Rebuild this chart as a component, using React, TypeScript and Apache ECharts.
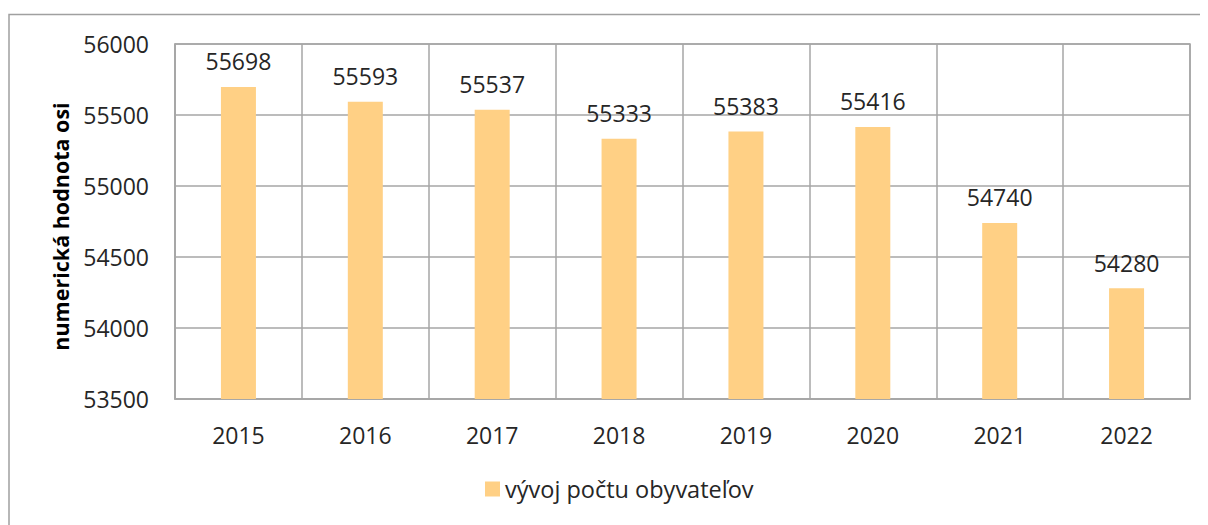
import React, { useEffect, useRef } from "react";
import * as echarts from "echarts";

const categories = ["2015", "2016", "2017", "2018", "2019", "2020", "2021", "2022"];
const values = [55698, 55593, 55537, 55333, 55383, 55416, 54740, 54280];
const seriesName = "vývoj počtu obyvateľov";
const yAxisName = "numerická hodnota osi";
const yMin = 53500;
const yMax = 56000;
const yInterval = 500;

const FONT = "'Open Sans', sans-serif";
const TEXT = "#262626";
const GRID = "#a6a6a6";

export default function App() {
  const ref = useRef<HTMLDivElement>(null);
  useEffect(() => {
    if (!ref.current) return;
    const chart = echarts.init(ref.current, undefined, { renderer: "svg" });
    chart.setOption({
      animation: false,
      textStyle: { fontFamily: FONT },
      graphic: [
        {
          type: "rect",
          shape: { x: 1, y: 6.5, width: 1400, height: 700 },
          style: { fill: "none", stroke: "#a0a0a0", lineWidth: 1.5 },
          silent: true,
        },
      ],
      grid: {
        left: 167,
        right: 18,
        top: 36,
        bottom: 126,
        show: true,
        borderColor: GRID,
        borderWidth: 1.5,
        containLabel: false,
      },
      legend: {
        bottom: 19,
        left: 472,
        itemWidth: 15,
        itemHeight: 15,
        icon: "rect",
        itemGap: 6,
        textStyle: { fontSize: 23.5, color: TEXT, fontFamily: FONT },
        data: [seriesName],
      },
      xAxis: {
        type: "category",
        data: categories,
        boundaryGap: true,
        axisLine: { show: true, lineStyle: { color: GRID, width: 1.5 } },
        axisTick: { show: false },
        splitLine: { show: true, lineStyle: { color: GRID, width: 1.5 } },
        axisLabel: { fontSize: 23, color: TEXT, margin: 24, fontFamily: FONT },
      },
      yAxis: {
        type: "value",
        min: yMin,
        max: yMax,
        interval: yInterval,
        name: yAxisName,
        nameLocation: "middle",
        nameGap: 104,
        nameTextStyle: {
          fontSize: 21.5,
          fontWeight: "bold",
          color: "#000",
          fontFamily: FONT,
          padding: [0, 10, 0, 0],
        },
        axisLine: { show: true, lineStyle: { color: GRID, width: 1.5 } },
        axisTick: { show: false },
        splitLine: { show: true, lineStyle: { color: GRID, width: 1.5 } },
        axisLabel: {
          fontSize: 23,
          color: TEXT,
          margin: 26,
          fontFamily: FONT,
          formatter: (v: number) => String(v),
        },
      },
      series: [
        {
          name: seriesName,
          type: "bar",
          data: values,
          barWidth: 35,
          itemStyle: { color: "#FFD085" },
          label: {
            show: true,
            position: "top",
            distance: 14,
            fontSize: 23,
            color: TEXT,
            fontFamily: FONT,
          },
        },
      ],
    });
    return () => chart.dispose();
  }, []);
  return <div ref={ref} style={{ width: 1200, height: 517 }} />;
}
